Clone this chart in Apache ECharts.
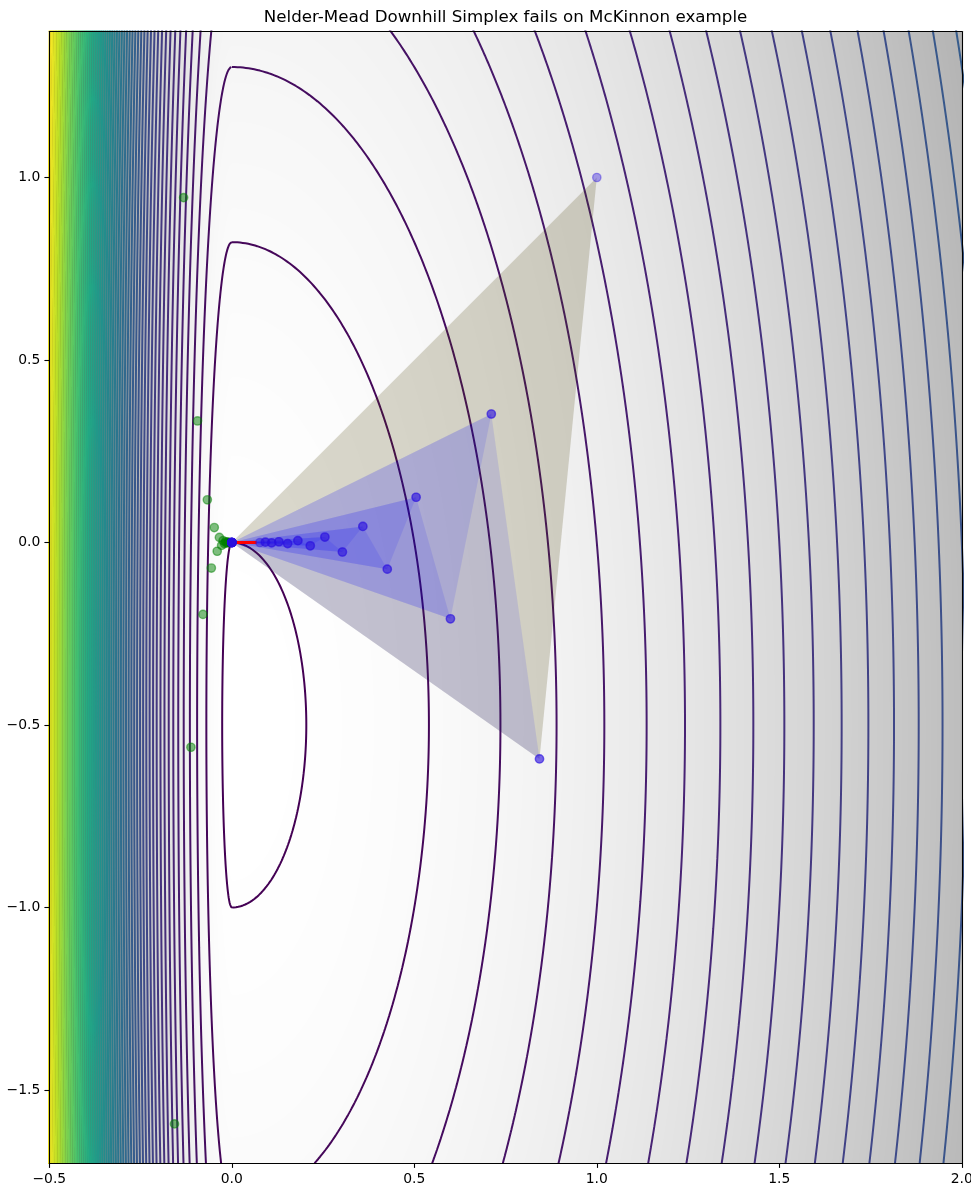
<!DOCTYPE html>
<html><head><meta charset="utf-8">
<script src="https://cdn.jsdelivr.net/npm/echarts@6/dist/echarts.min.js"></script>
<style>html,body{margin:0;padding:0;background:#fff;} #c{width:971px;height:1185px;}</style>
</head><body><div id="c"></div>
<script>
// ---------------- data ----------------
const TITLE = 'Nelder-Mead Downhill Simplex fails on McKinnon example';
const X_RANGE = [-0.5, 2.0];
const Y_RANGE = [-1.7, 1.4];
const X_TICKS = [-0.5, 0.0, 0.5, 1.0, 1.5, 2.0];
const Y_TICKS = [-1.5, -1.0, -0.5, 0.0, 0.5, 1.0];
// McKinnon function f(x,y) = theta*phi*|x|^tau + y + y^2 (x<=0), theta*x^tau + y + y^2 (x>0)
const TAU = 2, THETA = 6, PHI = 60;
const CONTOUR_LEVELS = [0, 1.5, 3, 4.5, 6, 7.5, 9, 10.5, 12, 13.5, 15, 16.5, 18, 19.5, 21, 22.5, 24, 25.5, 27, 28.5,
  30, 31.5, 33, 34.5, 36, 37.5, 39, 40.5, 42, 43.5, 45, 46.5, 48, 49.5, 51, 52.5, 54, 55.5, 57, 58.5,
  60, 61.5, 63, 64.5, 66, 67.5, 69, 70.5, 72, 73.5, 75, 76.5, 78, 79.5, 81, 82.5, 84, 85.5, 87, 88.5, 90, 91.5, 93];
// best vertex (stays fixed)
const BEST = [0, 0];
// successive simplex vertices
const VERTEX_X = [1.000, 0.843, 0.711, 0.599, 0.505, 0.426, 0.359, 0.303, 0.255, 0.215, 0.181, 0.153, 0.129, 0.109,
  0.092, 0.077];
const VERTEX_Y = [1.000, -0.593, 0.352, -0.209, 0.124, -0.073, 0.044, -0.026, 0.015, -0.009, 0.005, -0.003, 0.002, -0.001,
  0.001, 0.000];
// rejected reflection points
const REFLECT_X = [-0.157, -0.132, -0.112, -0.094, -0.079, -0.067, -0.056, -0.048, -0.040, -0.034, -0.028, -0.024,
  -0.020, -0.017, -0.015, -0.012, -0.010, -0.009, -0.007, -0.006];
const REFLECT_Y = [-1.593, 0.945, -0.561, 0.333, -0.197, 0.117, -0.070, 0.041, -0.024, 0.014, -0.008, 0.005,
  -0.003, 0.002, -0.001, 0.001, 0.000, 0.000, 0.000, 0.000];
// red segment near the optimum
const RED_X = [0.0, 0.068];
const RED_Y = [0.0, 0.0];

// ---------------- helpers ----------------
const GRID = {left: 49.3, top: 31.5, width: 912.5, height: 1131.5};
const VIRIDIS = ['#440154','#482475','#414487','#355f8d','#2a788e','#21918c','#22a884','#44bf70','#7ad151','#bddf26','#fde725'];
function hex2rgb(h){return [parseInt(h.slice(1,3),16),parseInt(h.slice(3,5),16),parseInt(h.slice(5,7),16)];}
function viridis(t){
  t = Math.max(0, Math.min(1, t));
  const p = t*(VIRIDIS.length-1), i = Math.min(Math.floor(p), VIRIDIS.length-2), f = p-i;
  const a = hex2rgb(VIRIDIS[i]), b = hex2rgb(VIRIDIS[i+1]);
  return 'rgb(' + [0,1,2].map(k => Math.round(a[k]+(b[k]-a[k])*f)).join(',') + ')';
}
function mck(x, y){
  const base = x <= 0 ? THETA*PHI*Math.pow(Math.abs(x), TAU) : THETA*Math.pow(x, TAU);
  return base + y + y*y;
}
function fmt(v){ return (v < 0 ? '\u2212' : '') + Math.abs(v).toFixed(1); }

// background image (gray_r of f)
const W = Math.round(GRID.width), H = Math.round(GRID.height);
let zmin = Infinity, zmax = -Infinity;
const zs = new Float32Array(W*H);
for (let j = 0; j < H; j++) {
  const y = Y_RANGE[1] - (j+0.5)/H*(Y_RANGE[1]-Y_RANGE[0]);
  for (let i = 0; i < W; i++) {
    const x = X_RANGE[0] + (i+0.5)/W*(X_RANGE[1]-X_RANGE[0]);
    const z = mck(x, y); zs[j*W+i] = z;
    if (z < zmin) zmin = z; if (z > zmax) zmax = z;
  }
}
const bg = document.createElement('canvas'); bg.width = W; bg.height = H;
const bctx = bg.getContext('2d'); const img = bctx.createImageData(W, H);
for (let k = 0; k < W*H; k++) {
  const g = Math.round(255*(1-(zs[k]-zmin)/(zmax-zmin)));
  img.data[4*k] = g; img.data[4*k+1] = g; img.data[4*k+2] = g; img.data[4*k+3] = 255;
}
bctx.putImageData(img, 0, 0);

// contour curves of each level (two elliptic halves)
const NSAMP = 900;
const contourSeries = CONTOUR_LEVELS.map(c => {
  const R = Math.sqrt(c + 0.25);
  const pts = [];
  for (let s = 0; s <= 2*NSAMP; s++) {
    const t = Math.PI*s/NSAMP;
    const sn = Math.sin(t), y = -0.5 + R*Math.cos(t);
    const r2 = R*R*sn*sn;
    const x = s <= NSAMP ? Math.pow(r2/THETA, 1/TAU) : -Math.pow(r2/(THETA*PHI), 1/TAU);
    pts.push([x, y]);
  }
  const lv = CONTOUR_LEVELS[CONTOUR_LEVELS.length-1] - CONTOUR_LEVELS[0];
  return {type:'line', data: pts, showSymbol:false, symbol:'none', silent:true, z:2, clip:true,
    lineStyle:{width:2, color: viridis((c-CONTOUR_LEVELS[0])/lv)}, emphasis:{disabled:true}};
});

// simplices
const simplices = [];
for (let k = 0; k < VERTEX_X.length-1; k++) {
  simplices.push([BEST[0], BEST[1], VERTEX_X[k], VERTEX_Y[k], VERTEX_X[k+1], VERTEX_Y[k+1], k]);
}
const simplexPts = [];
simplices.forEach(s => { simplexPts.push([s[0],s[1]],[s[2],s[3]],[s[4],s[5]]); });
const reflectPts = REFLECT_X.map((x, i) => [x, REFLECT_Y[i]]);

const chart = echarts.init(document.getElementById('c'), null, {renderer:'canvas'});
const axisCommon = {
  type:'value', splitLine:{show:false}, z:10,
  axisLine:{show:true, onZero:false, lineStyle:{color:'#000', width:1.1}}
};
chart.setOption({
  animation:false,
  backgroundColor:'#ffffff',
  grid:Object.assign({outerBoundsMode:'none', containLabel:false, show:false}, GRID),
  graphic:[{type:'text', x: GRID.left + GRID.width/2, y: 18, z: 20,
    style:{text: TITLE, font:'16.7px "DejaVu Sans"', fill:'#000', align:'center', verticalAlign:'middle', textAlign:'center', textVerticalAlign:'middle'}}],
  xAxis:[
    Object.assign({}, axisCommon, {min:X_RANGE[0], max:X_RANGE[1], interval:0.5, position:'bottom',
      axisTick:{show:true, length:4.9, lineStyle:{color:'#000', width:1.1}, customValues:X_TICKS},
      axisLabel:{show:true, customValues:X_TICKS, formatter:fmt, color:'#000', fontSize:13.9, fontFamily:'DejaVu Sans', margin:9}}),
    Object.assign({}, axisCommon, {min:X_RANGE[0], max:X_RANGE[1], position:'top', axisTick:{show:false}, axisLabel:{show:false}})
  ],
  yAxis:[
    Object.assign({}, axisCommon, {min:Y_RANGE[0], max:Y_RANGE[1], position:'left',
      axisTick:{show:true, length:4.9, lineStyle:{color:'#000', width:1.1}, customValues:Y_TICKS},
      axisLabel:{show:true, customValues:Y_TICKS, formatter:fmt, color:'#000', fontSize:13.9, fontFamily:'DejaVu Sans', margin:9}}),
    Object.assign({}, axisCommon, {min:Y_RANGE[0], max:Y_RANGE[1], position:'right', axisTick:{show:false}, axisLabel:{show:false}})
  ],
  series:[
    {type:'custom', z:1, silent:true, data:[[X_RANGE[0], Y_RANGE[1]]],
      renderItem:(params, api) => {
        const p0 = api.coord([X_RANGE[0], Y_RANGE[1]]), p1 = api.coord([X_RANGE[1], Y_RANGE[0]]);
        return {type:'image', style:{image: bg, x:p0[0], y:p0[1], width:p1[0]-p0[0], height:p1[1]-p0[1]}};
      }},
    ...contourSeries,
    {type:'custom', z:3, silent:true, data: simplices,
      renderItem:(params, api) => {
        const pts = [api.coord([api.value(0), api.value(1)]), api.coord([api.value(2), api.value(3)]), api.coord([api.value(4), api.value(5)])];
        const first = api.value(6) === 0;
        return {type:'polygon', shape:{points:pts}, style:{fill: first ? 'rgba(70,62,0,0.2)' : 'rgba(0,0,255,0.1)'}};
      }},
    {type:'line', z:4, data: RED_X.map((x,i)=>[x, RED_Y[i]]), showSymbol:false, symbol:'none', silent:true,
      lineStyle:{color:'#ff0000', width:3}},
    {type:'scatter', z:5, data: reflectPts, symbolSize:8.3, silent:true,
      itemStyle:{color:'#008000', opacity:0.5, borderColor:'#008000', borderWidth:1.4}},
    {type:'scatter', z:6, data: simplexPts, symbolSize:8.3, silent:true,
      itemStyle:{color:'#2a10e0', opacity:0.38, borderColor:'#2a10e0', borderWidth:1.4}}
  ]
});
</script></body></html>
